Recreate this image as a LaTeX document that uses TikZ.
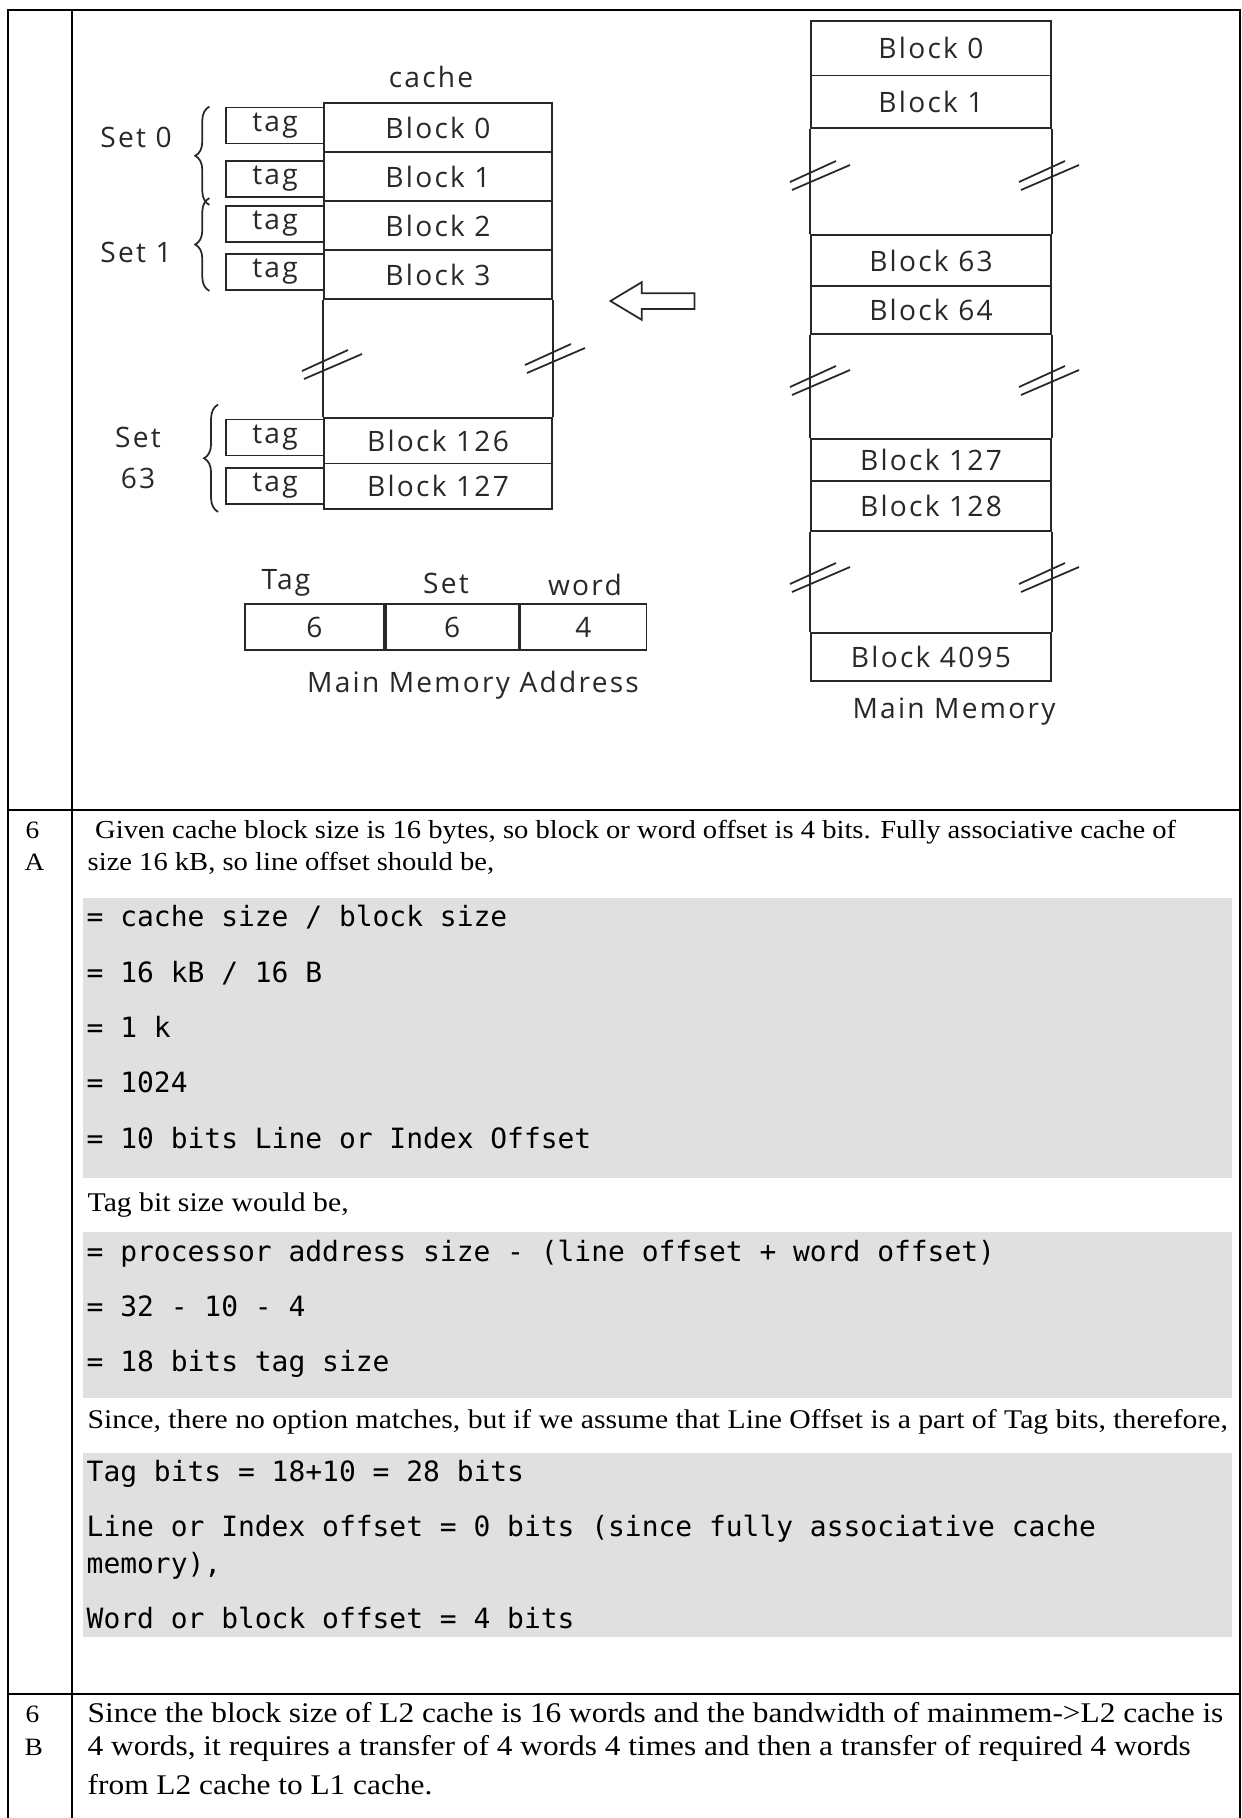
\documentclass[tikz,border=0pt]{standalone}
\usepackage{fontspec}
\setmainfont{Liberation Serif}[FakeStretch=1.1]
\newfontfamily\codefont{DejaVu Sans Mono}
\newfontfamily\handfont[LetterSpace=8]{Open Sans}
\usetikzlibrary{positioning,decorations.pathreplacing,shapes.arrows}
\definecolor{codebg}{RGB}{224,224,224}
\definecolor{pen}{RGB}{40,40,40}

\begin{document}
\begin{tikzpicture}[y=-1cm,
    frame/.style={line width=0.6pt,black},
    txt/.style={anchor=base west,inner sep=0pt,font=\fontsize{7.68}{9}\selectfont},
    code/.style={anchor=base west,inner sep=0pt,font=\codefont\fontsize{7.95}{9.5}\selectfont},
    hand/.style={inner sep=0pt,text=pen,font=\handfont\fontsize{8}{9.6}\selectfont},
    cblk/.style={draw=pen,line width=0.5pt,hand,
                 minimum width=2.28cm,minimum height=0.49cm},
    tagbox/.style={draw=pen,line width=0.5pt,hand,
                 minimum width=0.98cm,minimum height=0.36cm},
    mblk/.style={draw=pen,line width=0.5pt,hand,
                 minimum width=2.40cm,minimum height=0.50cm},
    field/.style={draw=pen,line width=0.5pt,hand,minimum height=0.46cm},
    setbrace/.style={draw=pen,line width=0.5pt,
                 decorate,decoration={brace,amplitude=4pt}},
    brk/.pic={\draw[pen,line width=0.5pt] (-0.30,0.07) -- (0.16,-0.14)
                                            (-0.28,0.15) -- (0.30,-0.10);}]
  \useasboundingbox (0,0) rectangle (12.42,18.18);

  % table frame
  \draw[frame] (0.08,18.18) -- (0.08,0.10) -- (12.40,0.10) -- (12.40,18.18);
  \draw[frame] (0.72,0.10) -- (0.72,18.18);
  \draw[frame] (0.08,8.10) -- (12.40,8.10);
  \draw[frame] (0.08,16.94) -- (12.40,16.94);

  % cache
  \node[hand] (ctitle) at (4.31,0.77) {cache};
  \node[cblk] (cb0) at (4.38,1.275) {Block\ 0};
  \node[cblk] (cb1) at (4.38,1.765) {Block\ 1};
  \node[cblk] (cb2) at (4.38,2.255) {Block\ 2};
  \node[cblk] (cb3) at (4.38,2.745) {Block\ 3};
  \node[cblk,minimum height=0.455cm] (cb126) at (4.38,4.4075) {Block\ 126};
  \node[cblk,minimum height=0.455cm] (cb127) at (4.38,4.8625) {Block\ 127};
  \draw[pen,line width=0.5pt] (cb3.south west) -- (cb126.north west)
                              (cb3.south east) -- (cb126.north east);
  \pic at (3.32,3.64) {brk};
  \pic at (5.55,3.58) {brk};

  \node[tagbox] (t0) at (2.75,1.255) {tag};
  \node[tagbox] (t1) at (2.75,1.79) {tag};
  \node[tagbox] (t2) at (2.75,2.24) {tag};
  \node[tagbox] (t3) at (2.75,2.72) {tag};
  \node[tagbox] (t126) at (2.75,4.375) {tag};
  \node[tagbox] (t127) at (2.75,4.86) {tag};

  \draw[setbrace] ([xshift=-4.5pt,yshift=-2pt]t1.south west) -- ([xshift=-4.5pt]t0.north west);
  \draw[setbrace] ([xshift=-4.5pt]t3.south west) -- ([xshift=-4.5pt,yshift=2pt]t2.north west);
  \draw[setbrace] ([xshift=-2pt,yshift=-2pt]t127.south west) -- ([xshift=-2pt,yshift=4pt]t126.north west);
  \node[hand] (s0) at (1.36,1.37) {Set 0};
  \node[hand] (s1) at (1.36,2.52) {Set 1};
  \node[hand,align=center] (s63) at (1.38,4.58) {Set\\[2pt]63};

  % address format
  \node[field,minimum width=1.39cm] (a1) at (3.145,6.27) {6};
  \node[field,minimum width=1.33cm,right=0pt of a1] (a2) {6};
  \node[field,minimum width=1.26cm,right=0pt of a2] (a3) {4};
  \node[hand] (ltag) at (2.86,5.83) {Tag};
  \node[hand] (lset) at (4.46,5.83) {Set};
  \node[hand] (lword) at (5.85,5.85) {word};
  \node[hand] (laddr) at (4.73,6.85) {Main Memory Address};

  % arrow
  \node[draw=pen,line width=0.5pt,single arrow,shape border rotate=180,
        minimum height=0.84cm,inner xsep=0pt,inner ysep=0.07cm,
        single arrow head extend=0.11cm,single arrow tip angle=62] (arr) at (6.59,3.01) {};

  % main memory
  \node[mblk,minimum height=0.545cm] (mb0) at (9.31,0.4825) {Block\ 0};
  \node[mblk,minimum height=0.525cm] (mb1) at (9.31,1.0175) {Block\ 1};
  \node[mblk,minimum height=0.51cm] (mb63) at (9.31,2.605) {Block\ 63};
  \node[mblk,minimum height=0.48cm] (mb64) at (9.31,3.10) {Block\ 64};
  \node[mblk,minimum height=0.42cm] (mb127) at (9.31,4.60) {Block\ 127};
  \node[mblk,minimum height=0.50cm] (mb128) at (9.31,5.06) {Block\ 128};
  \node[mblk,minimum height=0.48cm] (mb4095) at (9.31,6.57) {Block\ 4095};
  \foreach \a/\b in {mb1/mb63,mb64/mb127,mb128/mb4095}
    \draw[pen,line width=0.5pt] (\a.south west) -- (\b.north west)
                                (\a.south east) -- (\b.north east);
  \foreach \y in {1.75,3.80,5.77}{
    \pic at (8.20,\y) {brk};
    \pic at (10.49,\y) {brk};}
  \node[hand] (lmm) at (9.54,7.12) {Main Memory};

  % row 6 A
  \node[txt,font=\fontsize{7.1}{8.5}\selectfont] (n6a) at (0.25,8.38) {6};
  \node[txt,font=\fontsize{7.1}{8.5}\selectfont] (na) at (0.24,8.70) {A};
  \node[txt,font=\fontsize{7.39}{9}\selectfont] (p1) at (0.945,8.38) {Given cache block size is 16 bytes, so block or word offset is 4 bits. Fully associative cache of};
  \node[txt,font=\fontsize{7.39}{9}\selectfont] (p2) at (0.87,8.70) {size 16 kB, so line offset should be,};

  \fill[codebg] (0.83,8.98) rectangle (12.32,11.78);
  \foreach \y/\t [count=\i] in {9.26/{= cache size / block size},9.82/{= 16 kB / 16 B},
      10.37/{= 1 k},10.92/{= 1024},11.48/{= 10 bits Line or Index Offset}}
    \node[code] (ca\i) at (0.86,\y) {\t};

  \node[txt] (p3) at (0.87,12.11) {Tag bit size would be,};

  \fill[codebg] (0.83,12.32) rectangle (12.32,13.98);
  \foreach \y/\t [count=\i] in {12.61/{= processor address size - (line offset + word offset)},
      13.16/{= 32 - 10 - 4},13.71/{= 18 bits tag size}}
    \node[code] (cb\i) at (0.86,\y) {\t};

  \node[txt] (p4) at (0.87,14.28) {Since, there no option matches, but if we assume that Line Offset is a part of Tag bits, therefore,};

  \fill[codebg] (0.83,14.53) rectangle (12.32,16.37);
  \foreach \y/\t [count=\i] in {14.81/{Tag bits = 18+10 = 28 bits},
      15.36/{Line or Index offset = 0 bits (since fully associative cache},
      15.73/{memory),},16.28/{Word or block offset = 4 bits}}
    \node[code] (cc\i) at (0.86,\y) {\t};

  % row 6 B
  \node[txt,font=\fontsize{7.1}{8.5}\selectfont] (n6b) at (0.25,17.22) {6};
  \node[txt,font=\fontsize{7.1}{8.5}\selectfont] (nb) at (0.24,17.55) {B};
  \node[txt,font=\fontsize{8.11}{9.5}\selectfont] (q1) at (0.87,17.22) {Since the block size of L2 cache is 16 words and the bandwidth of mainmem->L2 cache is};
  \node[txt,font=\fontsize{8.11}{9.5}\selectfont] (q2) at (0.87,17.55) {4 words, it requires a transfer of 4 words 4 times and then a transfer of required 4 words};
  \node[txt,font=\fontsize{8.11}{9.5}\selectfont] (q3) at (0.87,17.94) {from L2 cache to L1 cache.};
\end{tikzpicture}
\end{document}
